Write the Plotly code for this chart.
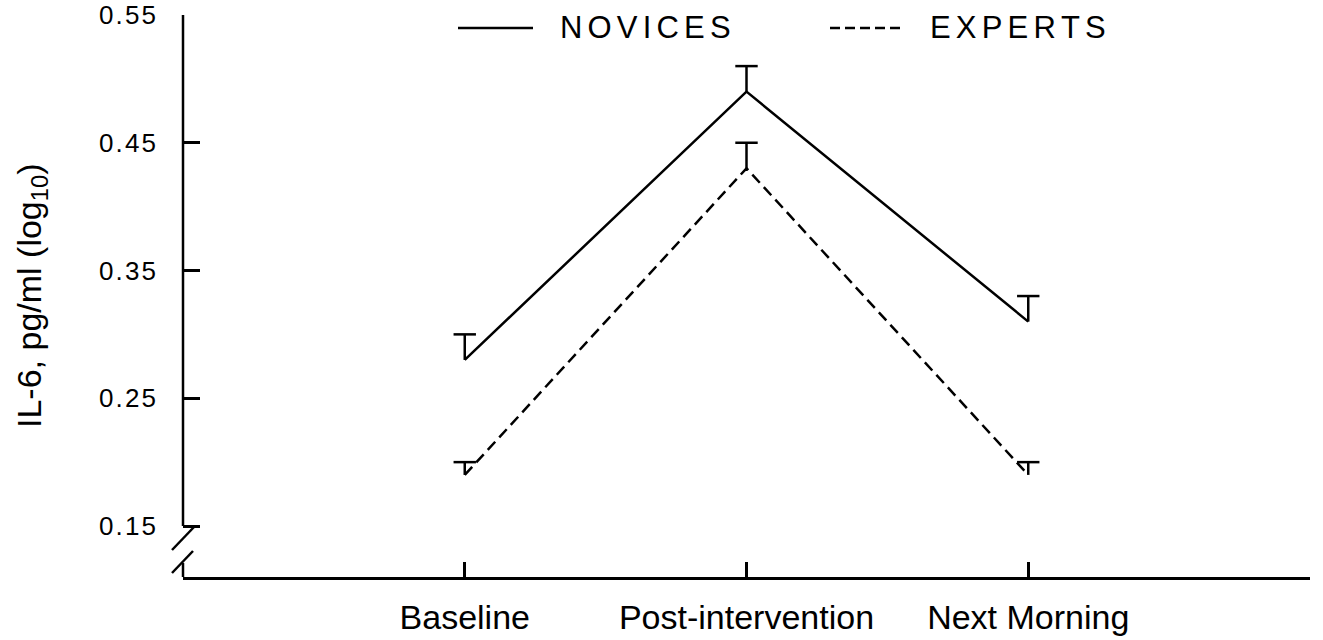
import plotly.graph_objects as go

# IL-6 (log10 pg/ml) at three time points, mean with upward SEM bar
timepoints = ["Baseline", "Post-intervention", "Next Morning"]
group_names = ["NOVICES", "EXPERTS"]
novices_mean = [0.28, 0.49, 0.31]
novices_sem = [0.02, 0.02, 0.02]
experts_mean = [0.19, 0.43, 0.19]
experts_sem = [0.01, 0.02, 0.01]
y_ticks = [0.15, 0.25, 0.35, 0.45, 0.55]

W, H = 1323, 640
L, R, T, B = 183, 13, 15, 63
PW, PH = W - L - R, H - T - B

FONT = "Liberation Sans, Arial, Helvetica, sans-serif"
HAIR = "\u200a"
LW = 2.5


def spaced(s, sep=HAIR):
    return sep.join(list(s))


def px_x(px):
    return (px - L) / PW


def px_y(py):
    return (T + PH - py) / PH


xs = list(range(len(timepoints)))

fig = go.Figure()


def add_group(mean, sem, dash):
    fig.add_trace(go.Scatter(
        x=xs, y=mean, mode="lines",
        line=dict(color="black", width=LW, dash=dash),
        showlegend=False, hoverinfo="skip",
    ))
    # upward error stems
    sx, sy = [], []
    for x, m, e in zip(xs, mean, sem):
        sx += [x, x, None]
        sy += [m, m + e, None]
    fig.add_trace(go.Scatter(
        x=sx, y=sy, mode="lines",
        line=dict(color="black", width=LW),
        showlegend=False, hoverinfo="skip",
    ))
    # caps
    fig.add_trace(go.Scatter(
        x=xs, y=[m + e for m, e in zip(mean, sem)], mode="markers",
        marker=dict(symbol="line-ew", size=16,
                    line=dict(color="black", width=LW)),
        showlegend=False, hoverinfo="skip",
    ))


add_group(novices_mean, novices_sem, "solid")
add_group(experts_mean, experts_sem, "11px,6px")

shapes = []
# y axis line with a break near the bottom
shapes.append(dict(type="line", xref="paper", yref="y",
                   x0=0, x1=0, y0=y_ticks[0], y1=y_ticks[-1],
                   line=dict(color="black", width=LW)))
shapes.append(dict(type="line", xref="paper", yref="paper",
                   x0=0, x1=0, y0=0, y1=px_y(563),
                   line=dict(color="black", width=LW)))
for (xa, ya, xb, yb) in [(172, 550, 194, 527), (172, 573, 193, 551)]:
    shapes.append(dict(type="line", xref="paper", yref="paper",
                       x0=px_x(xa), y0=px_y(ya), x1=px_x(xb), y1=px_y(yb),
                       line=dict(color="black", width=LW)))

# legend samples
legend_y = px_y(28)
shapes.append(dict(type="line", xref="paper", yref="paper",
                   x0=px_x(458), x1=px_x(533), y0=legend_y, y1=legend_y,
                   line=dict(color="black", width=LW)))
shapes.append(dict(type="line", xref="paper", yref="paper",
                   x0=px_x(830), x1=px_x(902), y0=legend_y, y1=legend_y,
                   line=dict(color="black", width=LW, dash="10px,5px")))

annotations = [
    dict(text=spaced(group_names[0], HAIR * 2), xref="paper", yref="paper",
         x=px_x(558), y=legend_y, xanchor="left", yanchor="middle",
         showarrow=False, font=dict(family=FONT, size=31, color="black")),
    dict(text=spaced(group_names[1], HAIR * 2), xref="paper", yref="paper",
         x=px_x(928), y=legend_y, xanchor="left", yanchor="middle",
         showarrow=False, font=dict(family=FONT, size=31, color="black")),
    dict(text="IL-6, pg/ml (log<sub>10</sub>)", xref="paper", yref="paper",
         x=px_x(31), y=0.5, xanchor="center", yanchor="middle",
         textangle=-90, showarrow=False,
         font=dict(family=FONT, size=34, color="black")),
]

fig.update_layout(
    width=W, height=H,
    margin=dict(l=L, r=R, t=T, b=B, autoexpand=False),
    paper_bgcolor="white", plot_bgcolor="white",
    showlegend=False,
    shapes=shapes,
    annotations=annotations,
    xaxis=dict(
        range=[-1, 3], tickvals=[0, 1, 2, 3],
        ticktext=timepoints + [" "],
        ticks="inside", ticklen=15, tickwidth=LW, tickcolor="black",
        showline=True, linewidth=LW, linecolor="black",
        showgrid=False, zeroline=False,
        tickfont=dict(family=FONT, size=34, color="black"),
        ticklabelstandoff=8,
    ),
    yaxis=dict(
        range=[0.55 - PH / 1277.5, 0.55],
        tickvals=y_ticks,
        ticktext=[spaced(f"{v:.2f}") for v in y_ticks],
        ticks="inside", ticklen=17, tickwidth=LW, tickcolor="black",
        showline=False, showgrid=False, zeroline=False,
        tickfont=dict(family=FONT, size=26, color="black"),
        ticklabelstandoff=26,
    ),
)

fig.write_html("out.html")
